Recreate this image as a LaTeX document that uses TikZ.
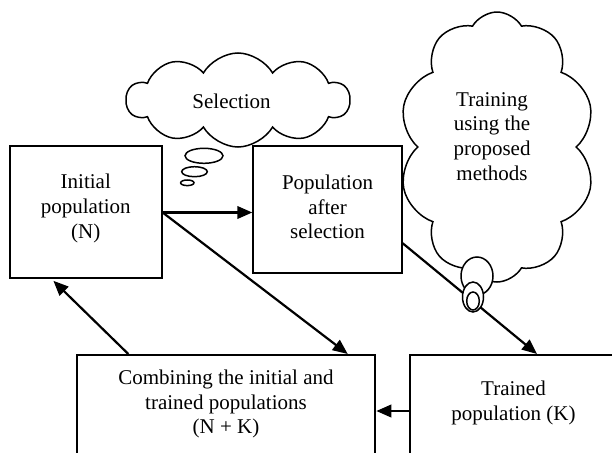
\documentclass[tikz,border=0pt]{standalone}
\usepackage{fontspec}
\setmainfont{Liberation Serif}
\usetikzlibrary{shapes.symbols,shapes.geometric,arrows.meta,calc}
\tikzset{
  box/.style={draw, line width=2pt, rectangle, inner sep=0pt, fill=white},
  txt/.style={align=center, font=\fontsize{21}{24.8}\selectfont, inner sep=0pt},
  arr/.style={line width=2.2pt, -{Triangle[length=15pt,width=12.5pt]}},
  cloudbox/.style={cloud, draw, line width=1.5pt, fill=white, cloud puff arc=120, inner sep=0pt, align=center},
  bubble/.style={ellipse, draw, line width=1.5pt, fill=white, inner sep=0pt}
}
\begin{document}
\begin{tikzpicture}[x=1pt,y=-1pt]
\useasboundingbox (0,0) rectangle (612,452);
\clip (0,0) rectangle (612,452);
% boxes
\node[box, minimum width=151.7pt, minimum height=132pt] (init) at (85.8,211.7) {};
\node[txt] (inittxt) at (85.8,208.5) {Initial\\population\\(N)};
\node[box, minimum width=148.4pt, minimum height=127pt] (pop) at (327.5,209.2) {};
\node[txt] (poptxt) at (327.5,207) {Population\\after\\selection};
\node[box, minimum width=298.6pt, minimum height=112pt] (comb) at (226,411) {};
\node[txt] (combtxt) at (226,404) {Combining the initial and\\trained populations\\(N + K)};
\node[box, minimum width=240pt, minimum height=112pt] (trained) at (530,411) {};
\node[txt] (trainedtxt) at (513.5,403) {Trained\\population (K)};
% arrows
\draw[arr] (init.east |- 0,212.5) -- (pop.west |- 0,212.5);
\draw[arr] (init.east |- 0,212.5) -- ($(comb.north west)!0.905!(comb.north east)$);
\draw[arr, shorten >=3pt] ($(comb.north west)!0.175!(comb.north east)$) -- ($(init.south west)!0.275!(init.south east)$);
\draw[arr] ($(pop.north east)!0.764!(pop.south east)$) -- ($(trained.north west)+(128,0)$);
\draw[arr] (trained.west |- comb.east) -- (comb.east);
% clouds
\node[cloudbox, cloud puffs=10, minimum width=223pt, minimum height=94pt] (sel) at (238,100) {};
\node[txt] (seltxt) at (231.5,101) {Selection};
\node[bubble, minimum width=38pt, minimum height=15pt] (sb1) at (204,155.8) {};
\node[bubble, minimum width=25.6pt, minimum height=10pt] (sb2) at (194.5,171.7) {};
\node[bubble, minimum width=13.4pt, minimum height=5.6pt] (sb3) at (187.3,182.8) {};
\node[cloudbox, cloud puffs=10, minimum width=196pt, minimum height=270pt] (train) at (497,147) {};
\node[txt] (traintxt) at (492,136.5) {Training\\using the\\proposed\\methods};
\node[bubble, minimum width=32pt, minimum height=38pt] (tb1) at (477,276) {};
\node[bubble, minimum width=21pt, minimum height=30pt] (tb2) at (473,297) {};
\node[bubble, minimum width=12.6pt, minimum height=18pt] (tb3) at (473,301) {};
\end{tikzpicture}
\end{document}
